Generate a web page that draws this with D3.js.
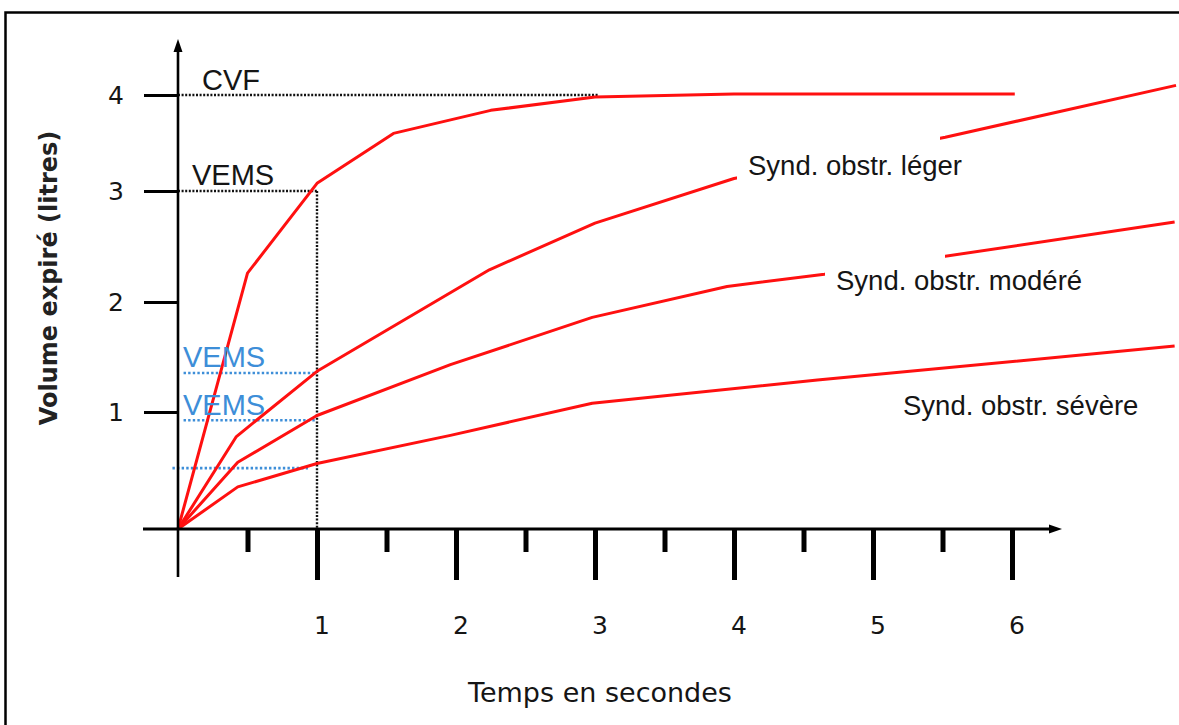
<!DOCTYPE html>
<html>
<head>
<meta charset="utf-8">
<script src="https://cdn.jsdelivr.net/npm/d3@7"></script>
<style>
  html, body { margin: 0; padding: 0; background: #fff; }
  svg { display: block; }
</style>
</head>
<body>
<div id="chart"></div>
<script>
// volumes (litres), time in seconds
var timeTicks = [1, 2, 3, 4, 5, 6];
var halfTicks = [0.5, 1.5, 2.5, 3.5, 4.5, 5.5];
var volumeTicks = [1, 2, 3, 4];

var normalT = [0, 0.5, 1, 1.55, 2.25, 3, 4, 6.02];
var normalV = [0, 2.26, 3.08, 3.6, 3.84, 3.98, 4.01, 4.01];

var legerT = [0, 0.42, 1, 2.24, 3, 4, 5.52, 7.18];
var legerV = [0, 0.79, 1.37, 2.29, 2.71, 3.13, 3.56, 4.1];

var modereT = [0, 0.43, 1, 1.96, 2.98, 3.95, 4.65, 7.17];
var modereV = [0, 0.57, 0.97, 1.43, 1.86, 2.14, 2.25, 2.72];

var severeT = [0, 0.43, 1, 1.96, 2.98, 4.6, 7.17];
var severeV = [0, 0.36, 0.56, 0.8, 1.08, 1.29, 1.6];

var curveLabels = ['Synd. obstr. léger', 'Synd. obstr. modéré', 'Synd. obstr. sévère'];

var cvfVolume = 4, cvfEnd = 3.02;
var vemsVolume = 3, vemsTime = 1;
var blueVems = [1.355, 0.93, 0.52];
var blueStart = [0.04, 0.04, -0.04];
var blueEnd = [1, 1, 0.935];

var width = 1179, height = 725;
var red = '#ff1010', blue = '#3d8ed8', ink = '#151515';

var svg = d3.select('#chart')
    .append('svg')
    .attr('width', width)
    .attr('height', height);

// frame (right and bottom edges fall outside the picture)
svg.append('rect')
    .attr('x', 5.5).attr('y', 12.5)
    .attr('width', 1200).attr('height', 800)
    .style('fill', '#fff')
    .style('stroke', '#000')
    .style('stroke-width', 2.5);

var x = d3.scaleLinear().domain([0, 6]).range([178, 1012]);
// hand drawn axis: unevenly spaced litres
var y = d3.scaleLinear().domain([0, 1, 2, 3, 4]).range([529, 412, 302, 191, 95]);

// reference dotted lines
var dots = svg.append('g')
    .style('fill', 'none')
    .style('stroke', '#111')
    .style('stroke-width', 2.4)
    .style('stroke-dasharray', '2,1.6');
dots.append('line')
    .attr('x1', x(0)).attr('x2', x(cvfEnd))
    .attr('y1', y(cvfVolume)).attr('y2', y(cvfVolume));
dots.append('line')
    .attr('x1', x(0)).attr('x2', x(vemsTime))
    .attr('y1', y(vemsVolume)).attr('y2', y(vemsVolume));
dots.append('line')
    .attr('x1', x(vemsTime)).attr('x2', x(vemsTime))
    .attr('y1', y(vemsVolume)).attr('y2', y(0));

svg.append('g')
    .selectAll('line')
    .data(blueVems)
    .enter()
    .append('line')
    .attr('x1', function (d, i) { return x(blueStart[i]); })
    .attr('x2', function (d, i) { return x(blueEnd[i]); })
    .attr('y1', function (d) { return y(d); })
    .attr('y2', function (d) { return y(d); })
    .style('stroke', blue)
    .style('stroke-width', 2.6)
    .style('stroke-dasharray', '2.4,2.2');

// curves
var line = d3.line()
    .x(function (d) { return x(d[0]); })
    .y(function (d) { return y(d[1]); });

var series = [
    d3.zip(normalT, normalV),
    d3.zip(legerT, legerV),
    d3.zip(modereT, modereV),
    d3.zip(severeT, severeV)
];

svg.append('g')
    .selectAll('path')
    .data(series)
    .enter()
    .append('path')
    .attr('d', line)
    .style('fill', 'none')
    .style('stroke', red)
    .style('stroke-width', 3)
    .style('stroke-linejoin', 'round');

// axes
var yAxis = d3.axisLeft(y).tickValues(volumeTicks).tickSize(34).tickFormat('');
svg.append('g')
    .attr('transform', 'translate(' + x(0) + ',0)')
    .call(yAxis)
    .call(function (g) { g.select('.domain').remove(); })
    .selectAll('line')
    .style('stroke', '#000')
    .style('stroke-width', 3);

var xMajor = d3.axisBottom(x).tickValues(timeTicks).tickSize(51).tickFormat('');
var xMinor = d3.axisBottom(x).tickValues(halfTicks).tickSize(23).tickFormat('');
[xMajor, xMinor].forEach(function (ax) {
    svg.append('g')
        .attr('transform', 'translate(0,' + y(0) + ')')
        .call(ax)
        .call(function (g) { g.select('.domain').remove(); })
        .selectAll('line')
        .style('stroke', '#000')
        .style('stroke-width', 5);
});

svg.append('line')
    .attr('x1', 143).attr('x2', 1054)
    .attr('y1', y(0)).attr('y2', y(0))
    .style('stroke', '#000').style('stroke-width', 2.8);
svg.append('line')
    .attr('x1', x(0)).attr('x2', x(0))
    .attr('y1', 48).attr('y2', 577)
    .style('stroke', '#000').style('stroke-width', 2.6);
svg.append('path')
    .attr('d', 'M' + x(0) + ',39 l-4.5,13 l9,0 z')
    .style('fill', '#000');
svg.append('path')
    .attr('d', 'M1062,' + y(0) + ' l-13,-4.5 l0,9 z')
    .style('fill', '#000');

// tick labels
svg.append('g')
    .selectAll('text')
    .data(timeTicks)
    .enter()
    .append('text')
    .attr('x', function (d) { return x(d) + 5; })
    .attr('y', 634)
    .attr('text-anchor', 'middle')
    .style('font-family', 'DejaVu Sans, sans-serif')
    .style('font-size', '25px')
    .style('fill', ink)
    .text(function (d) { return d; });

svg.append('g')
    .selectAll('text')
    .data(volumeTicks)
    .enter()
    .append('text')
    .attr('x', 116)
    .attr('y', function (d) { return y(d); })
    .attr('dy', '0.35em')
    .attr('text-anchor', 'middle')
    .style('font-family', 'DejaVu Sans, sans-serif')
    .style('font-size', '25px')
    .style('fill', ink)
    .text(function (d) { return d; });

svg.append('text')
    .attr('x', 600).attr('y', 702)
    .attr('text-anchor', 'middle')
    .style('font-family', 'DejaVu Sans, sans-serif')
    .style('font-size', '27px')
    .style('fill', ink)
    .text('Temps en secondes');

svg.append('text')
    .attr('transform', 'translate(57,278) rotate(-90)')
    .attr('text-anchor', 'middle')
    .style('font-family', 'DejaVu Sans, sans-serif')
    .style('font-weight', 'bold')
    .style('font-size', '24px')
    .style('fill', '#222')
    .text('Volume expiré (litres)');

// reference labels
var labelFont = 'Liberation Sans, Arial, sans-serif';
svg.append('text')
    .attr('x', 202).attr('y', 90)
    .style('font-family', labelFont).style('font-size', '29px').style('fill', ink)
    .text('CVF');
svg.append('text')
    .attr('x', 192).attr('y', 185)
    .style('font-family', labelFont).style('font-size', '29px').style('fill', ink)
    .text('VEMS');
[367, 415].forEach(function (base) {
    svg.append('text')
        .attr('x', 183).attr('y', base)
        .style('font-family', labelFont).style('font-size', '29px').style('fill', blue)
        .text('VEMS');
});

// curve names sit on white boxes that break the lines
var nameBoxes = [[737, 134, 203, 52], [825, 251, 120, 47], null];
var namePos = [[748, 175], [836, 290], [903, 415]];
curveLabels.forEach(function (name, i) {
    if (nameBoxes[i]) {
        svg.append('rect')
            .attr('x', nameBoxes[i][0]).attr('y', nameBoxes[i][1])
            .attr('width', nameBoxes[i][2]).attr('height', nameBoxes[i][3])
            .style('fill', '#fff');
    }
    svg.append('text')
        .attr('x', namePos[i][0]).attr('y', namePos[i][1])
        .style('font-family', labelFont)
        .style('font-size', '27.5px')
        .style('fill', ink)
        .text(name);
});
</script>
</body>
</html>
